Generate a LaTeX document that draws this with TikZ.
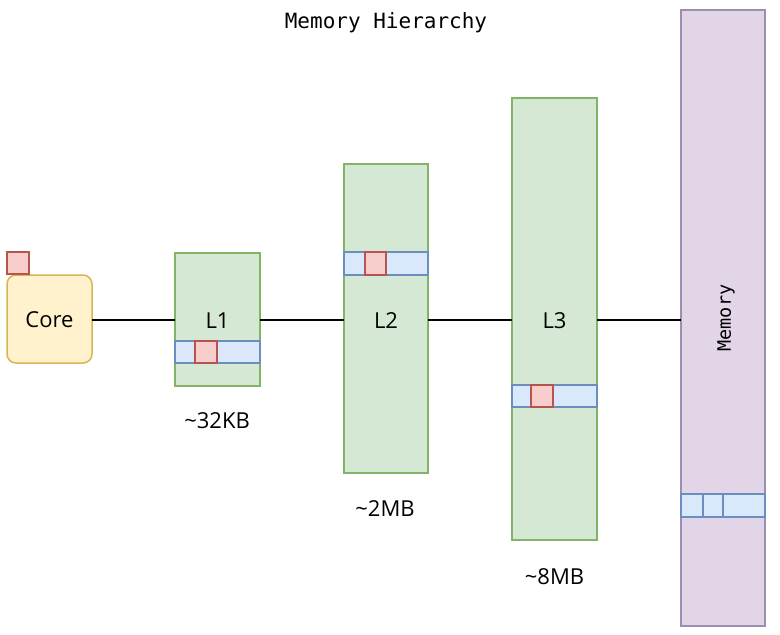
\documentclass[tikz,border=0pt]{standalone}
\usepackage{fontspec}
\setmainfont{Open Sans}
\setmonofont{DejaVu Sans Mono}
\begin{document}
\begin{tikzpicture}[x=1pt,y=-1pt,
  lab/.style={font=\fontsize{22}{24}\selectfont},
  link/.style={line width=1.6pt}]
\definecolor{gfill}{HTML}{D5E8D4}\definecolor{gdraw}{HTML}{82B366}
\definecolor{yfill}{HTML}{FFF2CC}\definecolor{ydraw}{HTML}{D6B656}
\definecolor{bfill}{HTML}{DAE8FC}\definecolor{bdraw}{HTML}{6C8EBF}
\definecolor{rfill}{HTML}{F8CECC}\definecolor{rdraw}{HTML}{B85450}
\definecolor{pfill}{HTML}{E1D5E7}\definecolor{pdraw}{HTML}{9A8FB0}
\tikzset{
  lvl/.style={draw=gdraw,fill=gfill,line width=1.5pt},
  row/.style={draw=bdraw,fill=bfill,line width=1.6pt},
  cell/.style={draw=rdraw,fill=rfill,line width=1.6pt}}
\useasboundingbox (0,0) rectangle (780,635);
% Core
\draw[draw=ydraw,fill=yfill,line width=1.5pt,rounded corners=9pt] (7,275) rectangle (92,363);
\coordinate (coreE) at (92,320);
\node[lab] (core) at (49.5,320) {Core};
\draw[cell] (7,252) rectangle (29,274);
% L1
\draw[lvl] (175,253) rectangle (260,386);
\coordinate (l1W) at (175,320); \coordinate (l1E) at (260,320);
\draw[row] (175,341) rectangle (260,363);
\draw[cell] (195,341) rectangle (217,363);
\node[lab] (l1) at (217.5,321) {L1};
\node[lab] (s1) at (217,421) {\char`\~32KB};
% L2
\draw[lvl] (344,164) rectangle (428,473);
\coordinate (l2W) at (344,320); \coordinate (l2E) at (428,320);
\draw[row] (344,252) rectangle (428,275);
\draw[cell] (365,252) rectangle (386,275);
\node[lab] (l2) at (386,321) {L2};
\node[lab] (s2) at (385,509) {\char`\~2MB};
% L3
\draw[lvl] (512,98) rectangle (597,540);
\coordinate (l3W) at (512,320); \coordinate (l3E) at (597,320);
\draw[row] (512,385) rectangle (597,407);
\draw[cell] (531,385) rectangle (553,407);
\node[lab] (l3) at (554.5,321) {L3};
\node[lab] (s3) at (554.5,577) {\char`\~8MB};
% Memory
\draw[draw=pdraw,fill=pfill,line width=1.5pt] (681,10) rectangle (765,626);
\coordinate (memW) at (681,320);
\draw[row] (681,494) rectangle (765,517);
\draw[draw=bdraw,line width=1.6pt] (703,494) -- (703,517) (723,494) -- (723,517);
\node[font=\ttfamily\fontsize{18.5}{20}\selectfont,rotate=90] (mem) at (726,318) {Memory};
% title
\node[font=\ttfamily\fontsize{21}{24}\selectfont] (title) at (386,23) {Memory Hierarchy};
% links
\draw[link] (coreE) -- (l1W);
\draw[link] (l1E) -- (l2W);
\draw[link] (l2E) -- (l3W);
\draw[link] (l3E) -- (memW);
\end{tikzpicture}
\end{document}
